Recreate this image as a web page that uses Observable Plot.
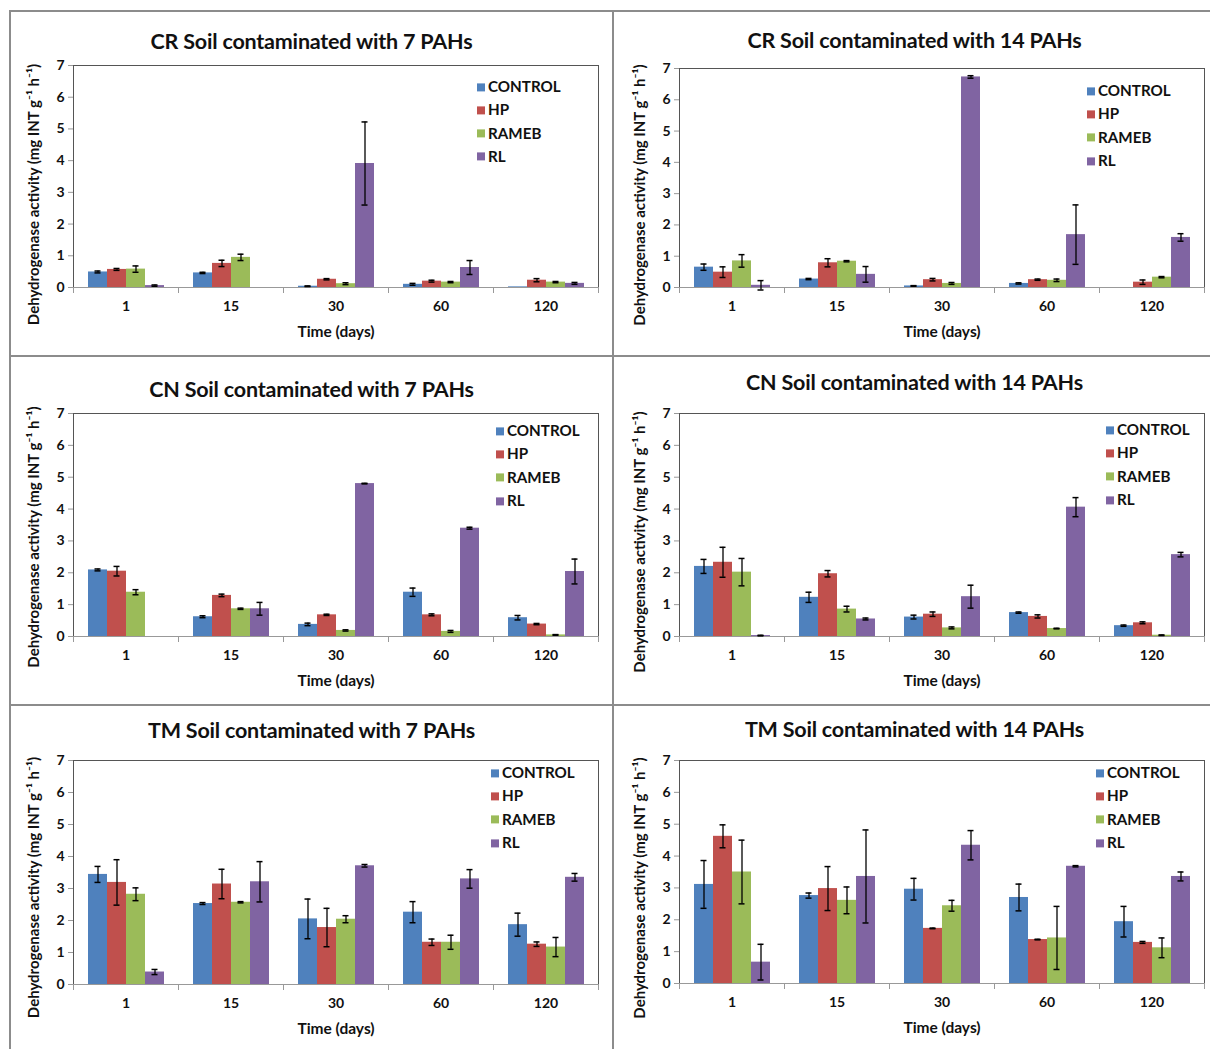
<!DOCTYPE html>
<html><head><meta charset="utf-8">
<script src="https://cdn.jsdelivr.net/npm/d3@7"></script>
<script src="https://cdn.jsdelivr.net/npm/@observablehq/plot@0.6"></script>
<style>
body{margin:0;background:#fff;font-family:Lato,"Open Sans",sans-serif;}
#page{position:relative;width:1210px;height:1049px;overflow:hidden;background:#fff;}
.panel{position:absolute;}
.panel svg{position:absolute;left:0;overflow:visible;}
.title{position:absolute;left:0;right:0;text-align:center;font-weight:bold;font-size:21.5px;color:#111;line-height:1;transform:translateY(-50%);letter-spacing:-0.2px;}
.legend{position:absolute;font-weight:bold;font-size:15.2px;color:#111;}
.legend .row{position:absolute;left:0;white-space:nowrap;line-height:1;transform:translateY(-50%);display:flex;align-items:center;}
.legend .sw{width:8px;height:8px;margin-right:3px;display:inline-block;}
.hline{position:absolute;height:2px;background:#8c8c8c;}
.vline{position:absolute;width:2px;background:#8c8c8c;}
</style></head>
<body><div id="page"></div>
<script>
const days = ["1","15","30","60","120"];
const series = ["CONTROL","HP","RAMEB","RL"];
const colors = ["#4F81BD","#C0504D","#9BBB59","#8064A2"];
const yTicks = [0,1,2,3,4,5,6,7];
const titles = [
  "CR Soil contaminated with 7 PAHs","CR Soil contaminated with 14 PAHs",
  "CN Soil contaminated with 7 PAHs","CN Soil contaminated with 14 PAHs",
  "TM Soil contaminated with 7 PAHs","TM Soil contaminated with 14 PAHs"];
const yLabel = "Dehydrogenase activity (mg INT g\u207B\u00B9 h\u207B\u00B9)";
const xLabel = "Time (days)";

// rows: CONTROL, HP, RAMEB, RL ; columns: days 1,15,30,60,120
const cr7Mean = [[0.49,0.46,0.04,0.10,0.02],[0.57,0.76,0.26,0.20,0.23],[0.58,0.95,0.12,0.17,0.17],[0.06,0,3.91,0.63,0.13]];
const cr7Err  = [[0.03,0.02,0.01,0.03,0],[0.03,0.10,0.02,0.03,0.05],[0.10,0.10,0.03,0.02,0.02],[0.02,0,1.31,0.22,0.03]];
const cr14Mean = [[0.65,0.27,0.05,0.13,0],[0.49,0.79,0.25,0.25,0.17],[0.85,0.84,0.13,0.23,0.33],[0.07,0.42,6.73,1.69,1.60]];
const cr14Err  = [[0.10,0.02,0.01,0.02,0],[0.17,0.13,0.04,0.02,0.07],[0.20,0.02,0.03,0.04,0.02],[0.15,0.25,0.04,0.95,0.12]];
const cn7Mean = [[2.09,0.62,0.38,1.39,0.59],[2.05,1.29,0.68,0.68,0.39],[1.39,0.87,0.19,0.16,0.05],[0,0.87,4.80,3.40,2.04]];
const cn7Err  = [[0.03,0.03,0.04,0.13,0.07],[0.15,0.04,0.02,0.03,0.02],[0.08,0.02,0.02,0.03,0.01],[0,0.20,0.01,0.03,0.39]];
const cn14Mean = [[2.20,1.23,0.61,0.75,0.34],[2.33,1.97,0.70,0.63,0.43],[2.02,0.86,0.27,0.25,0.04],[0.03,0.55,1.25,4.06,2.57]];
const cn14Err  = [[0.22,0.16,0.06,0.02,0.02],[0.47,0.10,0.07,0.05,0.03],[0.43,0.09,0.03,0.01,0.01],[0.01,0.03,0.36,0.30,0.07]];
const tm7Mean = [[3.44,2.53,2.05,2.26,1.87],[3.19,3.14,1.78,1.32,1.26],[2.82,2.57,2.04,1.32,1.17],[0.39,3.21,3.71,3.30,3.35]];
const tm7Err  = [[0.25,0.03,0.62,0.33,0.36],[0.71,0.46,0.60,0.10,0.07],[0.20,0.02,0.11,0.22,0.30],[0.08,0.63,0.04,0.29,0.12]];
const tm14Mean = [[3.11,2.76,2.96,2.70,1.94],[4.62,2.98,1.73,1.38,1.29],[3.50,2.61,2.44,1.43,1.12],[0.67,3.36,4.34,3.68,3.36]];
const tm14Err  = [[0.75,0.08,0.34,0.42,0.48],[0.36,0.69,0.01,0.01,0.03],[1.00,0.42,0.17,0.99,0.31],[0.56,1.46,0.46,0.02,0.14]];

const means = [cr7Mean, cr14Mean, cn7Mean, cn14Mean, tm7Mean, tm14Mean];
const errs = [cr7Err, cr14Err, cn7Err, cn14Err, tm7Err, tm14Err];

// layout (pixels)
const layout = [
  {left:10, top:10, w:603, h:346, titleY:32, titleDx:0, svgTop:45, mL:61, mR:13, plotH:222, legX:467, legY:77, legStep:23.3, yLabShift:18},
  {left:613, top:10, w:597, h:346, titleY:31, titleDx:6, svgTop:48, mL:65, mR:5, plotH:219, legX:474, legY:81, legStep:23.4, yLabShift:17},
  {left:10, top:356, w:603, h:349, titleY:34, titleDx:0, svgTop:47, mL:61, mR:13, plotH:223, legX:486, legY:75, legStep:23.4, yLabShift:12},
  {left:613, top:356, w:597, h:349, titleY:27, titleDx:6, svgTop:47, mL:65, mR:5, plotH:223, legX:493, legY:74, legStep:23.4, yLabShift:17},
  {left:10, top:705, w:603, h:344, titleY:26, titleDx:0, svgTop:45, mL:61, mR:13, plotH:224, legX:481, legY:68, legStep:23.4, yLabShift:15},
  {left:613, top:705, w:597, h:344, titleY:25, titleDx:6, svgTop:45, mL:65, mR:5, plotH:223, legX:483, legY:68, legStep:23.4, yLabShift:16}
];

function rows(mean, err) {
  const out = [];
  series.forEach((s, i) => days.forEach((d, j) => out.push({series: s, day: d, value: mean[i][j], err: err[i][j]})));
  return out;
}

const page = document.getElementById("page");

function makeChart(data, L, fancy) {
  const withErr = data.filter(d => d.value > 0 && d.err > 0);
  const extra = fancy ? [
    Plot.frame({facet: "super", stroke: "#555"}),
    Plot.frame({anchor: "left", stroke: "#999", insetTop: L.plotH, insetBottom: -5}),
    Plot.frame({facet: "super", anchor: "right", stroke: "#999", insetTop: L.plotH, insetBottom: -5})
  ] : [Plot.ruleY([7], {stroke: "#555"})];
  return Plot.plot({
    width: L.w, height: L.plotH + 10 + 58,
    marginTop: 10, marginBottom: 58, marginLeft: L.mL, marginRight: L.mR,
    fx: {domain: days, padding: 0, label: null},
    x: {domain: series, paddingInner: 0, paddingOuter: 0.76, axis: null},
    y: {domain: [0, 7]},
    color: {domain: series, range: colors},
    style: {fontFamily: "Lato, 'Open Sans', sans-serif", fontSize: "14px", fontWeight: "bold", background: "transparent", color: "#111"},
    marks: [
      ...extra,
      Plot.axisY(yTicks, {tickSize: 5, stroke: "#999", tickPadding: 4, label: yLabel, labelArrow: "none", labelAnchor: "center", labelOffset: 45}),
      Plot.axisFx({anchor: "bottom", tickSize: 0, tickPadding: 14, label: xLabel, labelArrow: "none", labelAnchor: "center", labelOffset: 49}),
      Plot.barY(data, {fx: "day", x: "series", y: "value", fill: "series"}),
      Plot.ruleY([0], {stroke: "#999", strokeWidth: 1.2}),
      Plot.ruleX(withErr, {fx: "day", x: "series", y1: d => d.value - d.err, y2: d => d.value + d.err, stroke: "#000", strokeWidth: 1.3}),
      Plot.tickY(withErr, {fx: "day", x: "series", y: d => d.value - d.err, stroke: "#000", strokeWidth: 1.5, insetLeft: 6.5, insetRight: 6.5}),
      Plot.tickY(withErr, {fx: "day", x: "series", y: d => d.value + d.err, stroke: "#000", strokeWidth: 1.5, insetLeft: 6.5, insetRight: 6.5})
    ]
  });
}

layout.forEach((L, k) => {
  const panel = document.createElement("div");
  panel.className = "panel";
  Object.assign(panel.style, {left: L.left + "px", top: L.top + "px", width: L.w + "px", height: L.h + "px"});
  const t = document.createElement("div");
  t.className = "title";
  t.style.top = L.titleY + "px";
  t.style.left = L.titleDx + "px";
  t.textContent = titles[k];
  panel.appendChild(t);
  const data = rows(means[k], errs[k]);
  let chart;
  try { chart = makeChart(data, L, true); } catch (e) { chart = makeChart(data, L, false); }
  chart.style.top = L.svgTop + "px";
  const yl = chart.querySelector('g[aria-label="y-axis label"]');
  if (yl) {
    yl.style.fontSize = "15px";
    const wrap = document.createElementNS("http://www.w3.org/2000/svg", "g");
    wrap.setAttribute("transform", `translate(0,${L.yLabShift})`);
    yl.parentNode.insertBefore(wrap, yl);
    wrap.appendChild(yl);
  }
  d3.select(chart).selectAll('g[aria-label="fx-axis label"]').style("font-size", "15.5px");
  panel.appendChild(chart);
  const leg = document.createElement("div");
  leg.className = "legend";
  leg.style.left = L.legX + "px";
  leg.style.top = "0px";
  series.forEach((s, i) => {
    const r = document.createElement("div");
    r.className = "row";
    r.style.top = (L.legY + i * L.legStep) + "px";
    const sw = document.createElement("span");
    sw.className = "sw";
    sw.style.background = colors[i];
    r.appendChild(sw);
    r.appendChild(document.createTextNode(s));
    leg.appendChild(r);
  });
  panel.appendChild(leg);
  page.appendChild(panel);
});

// panel separators
[[9,10,1201],[9,355,1201],[9,704,1201]].forEach(([x,y,w]) => {
  const d = document.createElement("div"); d.className = "hline";
  Object.assign(d.style, {left: x + "px", top: y + "px", width: w + "px"}); page.appendChild(d);
});
[[9,10,1039],[612,10,1039]].forEach(([x,y,h]) => {
  const d = document.createElement("div"); d.className = "vline";
  Object.assign(d.style, {left: x + "px", top: y + "px", height: h + "px"}); page.appendChild(d);
});
</script>
</body></html>
